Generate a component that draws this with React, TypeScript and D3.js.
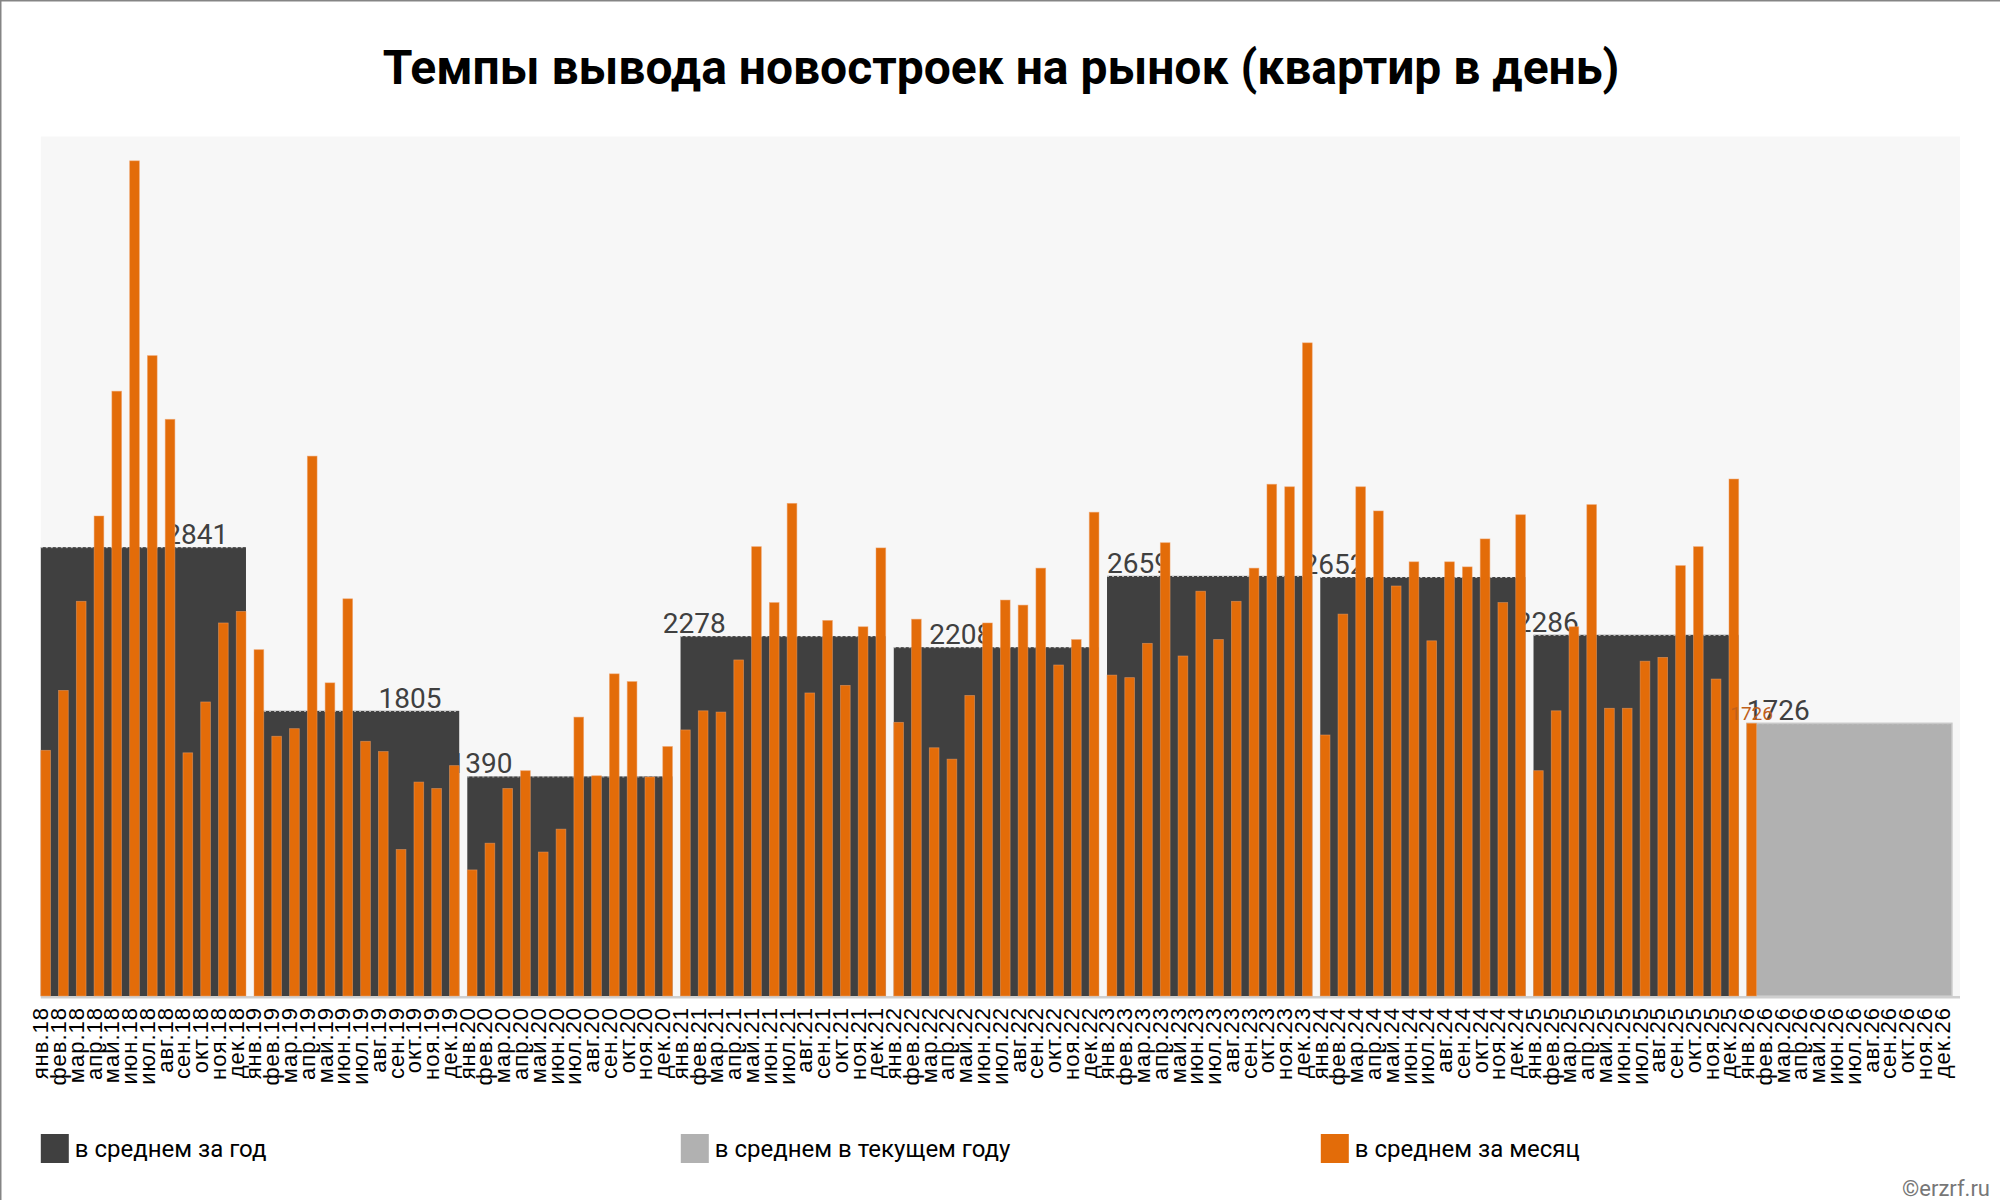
import React from 'react';
import * as d3 from 'd3';

const monthNames = ['янв', 'фев', 'мар', 'апр', 'май', 'июн', 'июл', 'авг', 'сен', 'окт', 'ноя', 'дек'];
const yearSuffixes = ['18', '19', '20', '21', '22', '23', '24', '25', '26'];
const categories = yearSuffixes.flatMap((y) => monthNames.map((m) => `${m}.${y}`));

// monthly averages (apartments per day), янв.18 .. янв.26
const monthlyValues = [
  1555, 1934, 2498, 3038, 3828, 5286, 4053, 3650, 1539, 1861, 2361, 2434,
  2192, 1644, 1692, 3417, 1982, 2514, 1612, 1547, 927, 1354, 1313, 1458,
  798, 967, 1313, 1426, 911, 1056, 1765, 1394, 2039, 1990, 1386, 1579,
  1684, 1805, 1797, 2127, 2844, 2490, 3118, 1918, 2377, 1966, 2337, 2836,
  1732, 2385, 1571, 1499, 1902, 2361, 2506, 2474, 2708, 2095, 2256, 3062,
  2031, 2015, 2232, 2869, 2152, 2562, 2256, 2498, 2708, 3239, 3223, 4134,
  1652, 2417, 3223, 3070, 2595, 2748, 2248, 2748, 2716, 2893, 2490, 3046,
  1426, 1805, 2337, 3110, 1821, 1821, 2119, 2143, 2724, 2844, 2006, 3272,
  1726,
];

// yearly averages 2018..2025
const yearlyValues = [2841, 1805, 1390, 2278, 2208, 2659, 2652, 2286];
// current year average (2026)
const currentYearValue = 1726;

const legendLabels = ['в среднем за год', 'в среднем в текущем году', 'в среднем за месяц'];
const titleText = 'Темпы вывода новостроек на рынок (квартир в день)';

// layout: month index within the year where each yearly label is centred
const yearLabelMonth = [8, 8, 0, 0, 3, 1, 0, 0, 1];

const W = 2000;
const H = 1200;
const plotLeft = 40.8;
const plotRight = 1960;
const plotTop = 136.5;
const plotBottom = 996;
const yMax = 5440;

const DARK = '#404040';
const GRAY = '#b1b1b1';
const ORANGE = '#e36c09';

export default function App() {
  const x = d3
    .scaleBand<string>()
    .domain(categories)
    .range([plotLeft, plotRight])
    .paddingInner(0.454)
    .paddingOuter(0.227)
    .align(0);
  const y = d3.scaleLinear().domain([0, yMax]).range([plotBottom, plotTop]);
  const bw = x.bandwidth();
  const step = x.step();

  const allYearBlocks = [...yearlyValues, currentYearValue];

  return (
    <div style={{ position: 'absolute', left: 0, top: 0 }}>
      <svg width={W} height={H} style={{ display: 'block' }}>
        <rect x={0} y={0} width={W} height={H} fill="#ffffff" />
        <line x1={0} y1={0.75} x2={W} y2={0.75} stroke="#858585" strokeWidth={1.5} />
        <line x1={0.75} y1={0} x2={0.75} y2={H} stroke="#858585" strokeWidth={1.5} />

        <text
          x={1001}
          y={84}
          textAnchor="middle"
          fontFamily="Roboto"
          fontWeight={700}
          fontSize={48}
          fill="#000"
        >
          {titleText}
        </text>

        <rect
          x={plotLeft}
          y={plotTop}
          width={plotRight - plotLeft}
          height={plotBottom - plotTop}
          fill="#f7f7f7"
        />

        {allYearBlocks.map((v, j) => {
          const x0 = x(categories[j * 12])!;
          const x1 = x(categories[j * 12 + 11])! + bw;
          const isCurrent = j === allYearBlocks.length - 1;
          return (
            <g key={`yb${j}`}>
              <rect
                x={x0}
                y={y(v)}
                width={x1 - x0}
                height={plotBottom - y(v)}
                fill={isCurrent ? GRAY : DARK}
                stroke={isCurrent ? '#c9c9c9' : 'none'}
                strokeWidth={1.5}
              />
              <line
                x1={x0}
                x2={x1}
                y1={y(v) + 0.5}
                y2={y(v) + 0.5}
                stroke="#c8c8c8"
                strokeWidth={1}
                strokeDasharray="2 3"
              />
            </g>
          );
        })}

        {allYearBlocks.map((v, j) => {
          const idx = j * 12 + yearLabelMonth[j];
          const cx = x(categories[idx])! + bw + (step - bw) / 2;
          return (
            <text
              key={`yl${j}`}
              x={cx}
              y={y(v) - 3}
              textAnchor="middle"
              fontFamily="Roboto"
              fontSize={28}
              fill="#404040"
            >
              {v}
            </text>
          );
        })}

        <rect x={plotLeft} y={plotBottom} width={plotRight - plotLeft} height={2.5} fill="#cfcfcf" />

        {monthlyValues.map((v, i) => (
          <rect
            key={`mb${i}`}
            x={x(categories[i])}
            y={y(v)}
            width={bw}
            height={plotBottom - y(v)}
            fill={ORANGE}
            stroke="#f0a068"
            strokeWidth={0.8}
            strokeOpacity={0.6}
          />
        ))}

        {(() => {
          const i = monthlyValues.length - 1;
          const v = monthlyValues[i];
          return (
            <text
              x={x(categories[i])! + bw / 2}
              y={y(v) - 3}
              textAnchor="middle"
              fontFamily="Roboto"
              fontSize={19}
              fill="#c0601a"
            >
              {v}
            </text>
          );
        })()}

        {categories.map((c, i) => (
          <text
            key={`xl${i}`}
            transform={`translate(${x(c)! + 7.4},1007) rotate(-90)`}
            textAnchor="end"
            fontFamily="'Liberation Sans', Arial, sans-serif"
            fontSize={22}
            letterSpacing={1}
            fill="#000"
          >
            {c}
          </text>
        ))}

        {legendLabels.map((t, k) => {
          const lx = plotLeft + k * 640;
          const colors = [DARK, GRAY, ORANGE];
          return (
            <g key={`lg${k}`}>
              <rect x={lx} y={1134} width={28} height={29} fill={colors[k]} />
              <text x={lx + 34} y={1157} fontFamily="Roboto" fontSize={24} fill="#000">
                {t}
              </text>
            </g>
          );
        })}

        <text x={1990} y={1196} textAnchor="end" fontFamily="Roboto" fontSize={22} fill="#777">
          ©erzrf.ru
        </text>
      </svg>
    </div>
  );
}
